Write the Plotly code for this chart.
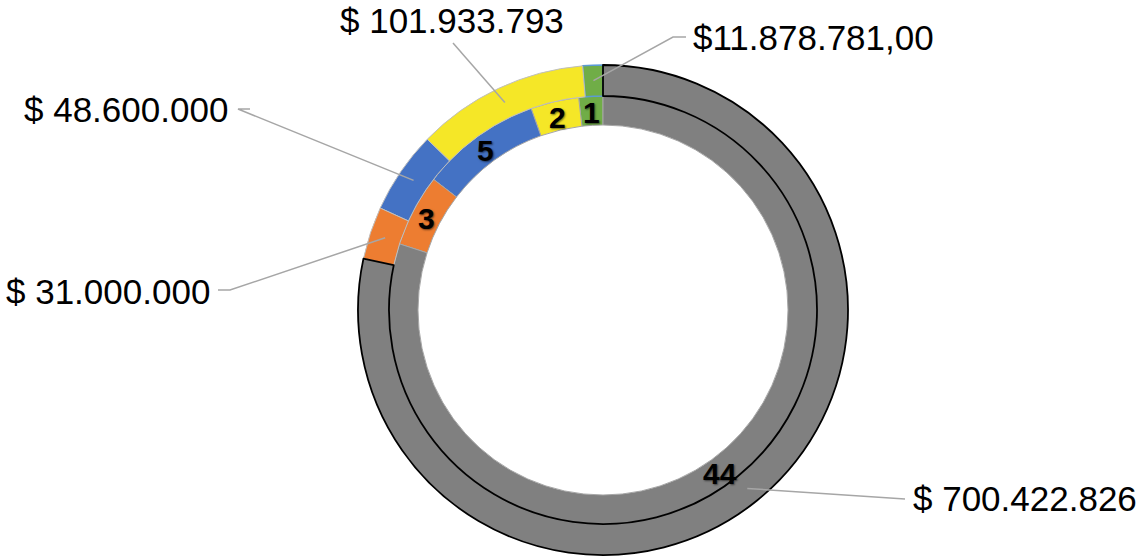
import math
import plotly.graph_objects as go

# ---- data ----
categories = ["A", "B", "C", "D", "E"]
counts = [1, 2, 5, 3, 44]                      # inner ring
amounts = [11878781.00, 101933793, 48600000, 31000000, 700422826]   # outer ring
amount_labels = ["$11.878.781,00", "$ 101.933.793", "$ 48.600.000",
                 "$ 31.000.000", "$ 700.422.826"]
colors = ["#70AD47", "#F5E727", "#4472C4", "#ED7D31", "#808080"]

# ---- geometry / layout (pixels) ----
W, H = 1142, 558
CX, CY = 603, 310
R_OUT, R_MID, R_IN = 245, 214, 185

def px2paper(x, y):
    return x / W, 1 - y / H

def domain(r):
    x0, y0 = px2paper(CX - r, CY + r)
    x1, y1 = px2paper(CX + r, CY - r)
    return dict(x=[x0, x1], y=[y0, y1])

def slice_mids(values):
    tot = sum(values)
    c = 0.0
    out = []
    for v in values:
        out.append((c + v / 2) / tot * 2 * math.pi)
        c += v
    return out

# plotly puts the first counterclockwise slice on the clockwise side of the
# rotation angle; shift so that the first slice starts at 12 o'clock.
rot_inner = -counts[0] / sum(counts) * 360
rot_outer = -amounts[0] / sum(amounts) * 360

fig = go.Figure()

fig.add_trace(go.Pie(
    labels=categories, values=counts, sort=False, direction="counterclockwise",
    rotation=rot_inner, hole=R_IN / R_MID, domain=domain(R_MID),
    marker=dict(colors=colors, line=dict(color="#A6A6A6", width=1)),
    textinfo="none", hoverinfo="label+value", showlegend=False,
))

fig.add_trace(go.Pie(
    labels=categories, values=amounts, sort=False, direction="counterclockwise",
    rotation=rot_outer, hole=R_MID / R_OUT, domain=domain(R_OUT),
    marker=dict(colors=colors,
                line=dict(color=["#5B9BD5", "#BFBFBF", "#BFBFBF", "#BFBFBF", "#000000"],
                          width=[1.5, 1, 1, 1, 1.8])),
    textinfo="none", hoverinfo="label+value", showlegend=False,
))

shapes = []
annotations = []

# inner ring count labels at slice midpoints
r_in_text = (R_MID + R_IN) / 2
for c, mid in zip(counts, slice_mids(counts)):
    x = CX - r_in_text * math.sin(mid)
    y = CY - r_in_text * math.cos(mid) + 2
    px, py = px2paper(x, y)
    annotations.append(dict(x=px, y=py, xref="paper", yref="paper", text=f"<b>{c}</b>",
                            showarrow=False, xanchor="center", yanchor="middle",
                            font=dict(family="Liberation Sans", size=30, color="black",
                                      shadow="1px 1px 2px rgba(0,0,0,0.55)")))

# outer labels with leader lines anchored at the outer slice midpoints
label_pos = [(813, 38), (452, 21), (126, 110), (108, 291), (1025, 498)]
line_end = [[(673, 37), (686, 37)], [(453, 43)], [(238, 109), (250, 109)],
            [(230, 290), (218, 290)], [(905, 499)]]
r_anchor = (R_OUT + R_MID) / 2
for i, mid in enumerate(slice_mids(amounts)):
    ax = CX - r_anchor * math.sin(mid)
    ay = CY - r_anchor * math.cos(mid)
    pts = [(ax, ay)] + line_end[i]
    path = "M " + " L ".join(f"{px2paper(x, y)[0]},{px2paper(x, y)[1]}" for x, y in pts)
    shapes.append(dict(type="path", path=path, xref="paper", yref="paper",
                       line=dict(color="#A6A6A6", width=1.5)))
    tx, ty = px2paper(*label_pos[i])
    annotations.append(dict(x=tx, y=ty, xref="paper", yref="paper", text=amount_labels[i],
                            showarrow=False, xanchor="center", yanchor="middle",
                            font=dict(family="Liberation Sans", size=35, color="black")))

fig.update_layout(
    width=W, height=H, margin=dict(l=0, r=0, t=0, b=0),
    paper_bgcolor="white", plot_bgcolor="white",
    shapes=shapes, annotations=annotations,
)

fig.write_html("out.html")
